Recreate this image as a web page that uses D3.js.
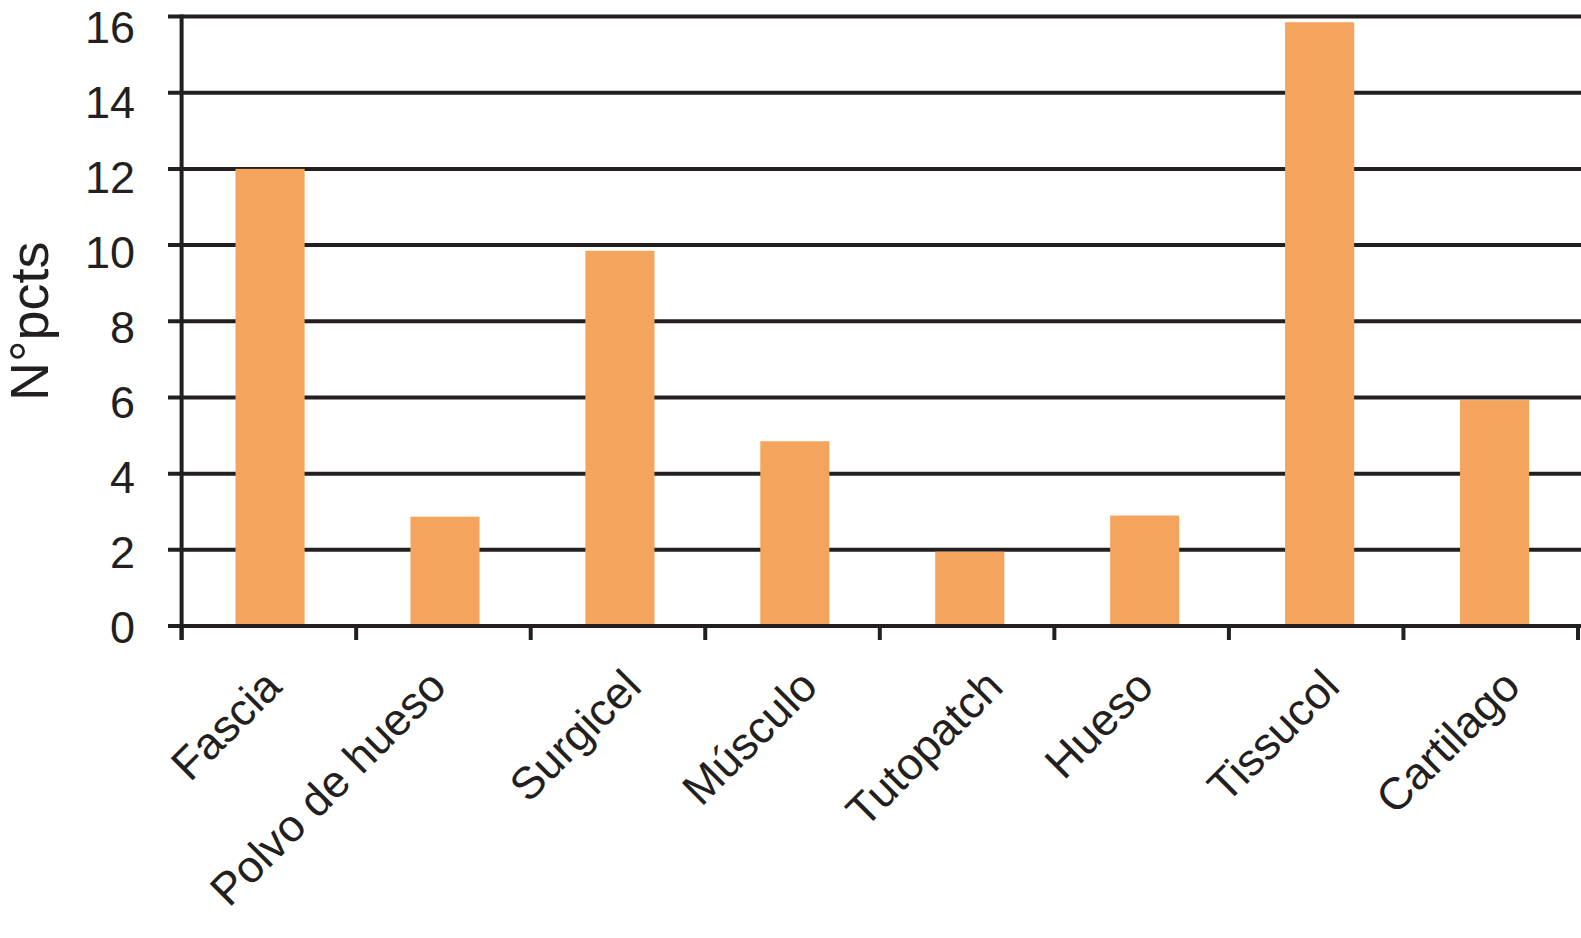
<!DOCTYPE html>
<html>
<head>
<meta charset="utf-8">
<title>Nºpcts por material</title>
<script src="https://d3js.org/d3.v7.min.js"></script>
<style>
  body { margin: 0; background: #fff; }
  text { font-family: "Liberation Sans", Arial, Helvetica, sans-serif; fill: #231f20; }
</style>
</head>
<body>
<script>
// data
var categories = ["Fascia", "Polvo de hueso", "Surgicel", "Músculo", "Tutopatch", "Hueso", "Tissucol", "Cartilago"];
var values = [12, 2.87, 9.85, 4.85, 1.95, 2.9, 15.85, 5.93];
var yTicks = [0, 2, 4, 6, 8, 10, 12, 14, 16];
var yTitle = "N°pcts";

var W = 1581, H = 938;
var ink = "#231f20", barColor = "#f5a45d";
var plotL = 181.6, plotR = 1578, plotT = 16.5, plotB = 626;

var svg = d3.select("body").append("svg")
  .attr("width", W)
  .attr("height", H);

// bars sit a touch right of the band centres in the original
var x = d3.scaleBand()
  .domain(categories)
  .range([plotL + 1, plotR + 4])
  .paddingInner(0.605)
  .paddingOuter(0.3025);

// category tick positions (band edges)
var xTick = d3.scaleLinear().domain([0, categories.length]).range([plotL, plotR]);

var y = d3.scaleLinear().domain([0, 16]).range([plotB, plotT]);
// tick labels are spaced a little tighter than the grid in the original
var yLab = d3.scaleLinear().domain([0, 16]).range([643, 43]);

// horizontal grid lines (the 0 line is the x axis)
svg.append("g")
  .selectAll("line")
  .data(yTicks)
  .join("line")
  .attr("x1", 168)
  .attr("x2", W)
  .attr("y1", d => y(d))
  .attr("y2", d => y(d))
  .attr("stroke", ink)
  .attr("stroke-width", 4);

// bars
svg.append("g")
  .selectAll("rect")
  .data(categories)
  .join("rect")
  .attr("x", d => x(d))
  .attr("width", x.bandwidth())
  .attr("y", (d, i) => y(values[i]))
  .attr("height", (d, i) => y(0) - y(values[i]) - 2)
  .attr("fill", barColor);

// y axis line
svg.append("line")
  .attr("x1", plotL).attr("x2", plotL)
  .attr("y1", plotT - 2).attr("y2", plotB + 14)
  .attr("stroke", ink)
  .attr("stroke-width", 4);

// x ticks at band edges
svg.append("g")
  .selectAll("line")
  .data(d3.range(categories.length + 1))
  .join("line")
  .attr("x1", i => xTick(i))
  .attr("x2", i => xTick(i))
  .attr("y1", plotB)
  .attr("y2", plotB + 14)
  .attr("stroke", ink)
  .attr("stroke-width", 4);

// y tick labels
svg.append("g")
  .selectAll("text")
  .data(yTicks)
  .join("text")
  .attr("x", 135)
  .attr("y", d => yLab(d))
  .attr("text-anchor", "end")
  .style("font-size", "45px")
  .text(d => d);

// y title
svg.append("text")
  .attr("transform", "translate(48," + ((plotT + plotB) / 2) + ") rotate(-90)")
  .attr("text-anchor", "middle")
  .style("font-size", "54px")
  .text(yTitle);

// rotated category labels
var fs = 45;
svg.append("g")
  .selectAll("text")
  .data(categories)
  .join("text")
  .attr("text-anchor", "end")
  .style("font-size", fs + "px")
  .text(d => d)
  .each(function(d, i) {
    var L = this.getComputedTextLength();
    var cx = (xTick(i) + xTick(i + 1)) / 2;
    var w = (L + fs * 0.8) * Math.SQRT1_2;
    var dx = w <= xTick(1) - xTick(0) ? L * Math.SQRT1_2 / 2 - 32 : 5;
    d3.select(this).attr("transform", "translate(" + (cx + dx) + ",689) rotate(-45)");
  });
</script>
</body>
</html>
